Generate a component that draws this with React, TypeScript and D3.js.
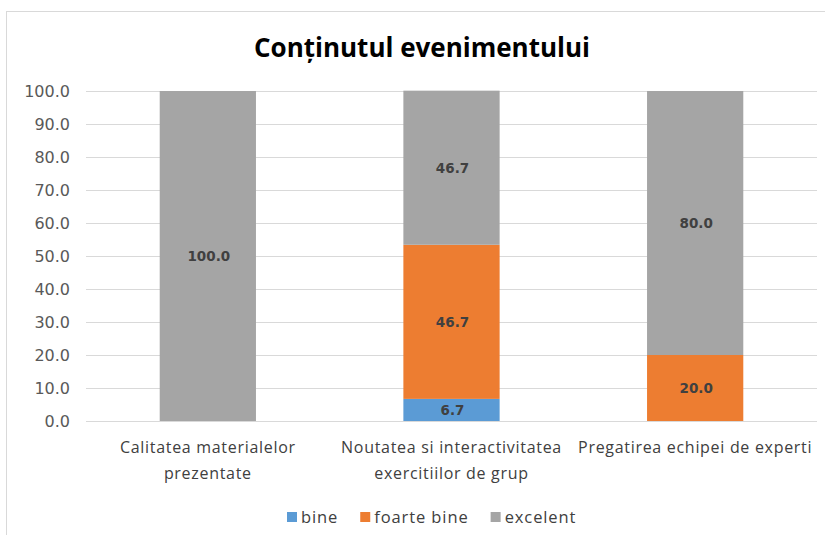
import React, { useEffect, useRef } from 'react';
import * as d3 from 'd3';

// chart data
const categories = [
  'Calitatea materialelor\nprezentate',
  'Noutatea si interactivitatea\nexercitiilor de grup',
  'Pregatirea echipei de experti',
];
const seriesNames = ['bine', 'foarte bine', 'excelent'];
const bine = [0, 6.7, 0];
const foarteBine = [0, 46.7, 20.0];
const excelent = [100.0, 46.7, 80.0];
const yTicks = [0, 10, 20, 30, 40, 50, 60, 70, 80, 90, 100];
const colors = ['#5B9BD5', '#ED7D31', '#A5A5A5'];
const title = 'Conținutul evenimentului';

const App = () => {
  const ref = useRef<SVGSVGElement | null>(null);

  useEffect(() => {
    if (!ref.current) return;
    drawChart(ref.current);
  }, []);

  return (
    <svg
      ref={ref}
      width={825}
      height={535}
      style={{ position: 'absolute', left: 0, top: 0, background: '#fff' }}
    />
  );
};

function drawChart(el: SVGSVGElement) {
  const svg = d3.select(el);
  svg.selectAll('*').remove();

  const width = 825;
  const height = 535;
  const font = '"Open Sans", sans-serif';
  const numFont = '"DejaVu Sans", Verdana, sans-serif';
  const margin = { top: 91, right: 8, bottom: 114, left: 86 };

  // outer chart border (right/bottom run off the picture)
  svg.append('rect')
    .attr('x', 6.5)
    .attr('y', 11.5)
    .attr('width', width + 10)
    .attr('height', height + 10)
    .attr('fill', '#fff')
    .attr('stroke', '#D9D9D9');

  const x = d3.scaleBand<number>()
    .domain(d3.range(categories.length))
    .range([margin.left, width - margin.right]);

  const y = d3.scaleLinear()
    .domain([0, 100])
    .range([height - margin.bottom, margin.top]);

  // gridlines
  svg.append('g')
    .selectAll('line')
    .data(yTicks)
    .enter()
    .append('line')
    .attr('x1', margin.left)
    .attr('x2', width - margin.right)
    .attr('y1', d => Math.round(y(d)) + 0.5)
    .attr('y2', d => Math.round(y(d)) + 0.5)
    .attr('stroke', '#D9D9D9')
    .attr('stroke-width', 1);

  // y tick labels
  svg.append('g')
    .selectAll('text')
    .data(yTicks)
    .enter()
    .append('text')
    .attr('x', 70)
    .attr('y', d => y(d))
    .attr('dy', '0.36em')
    .attr('text-anchor', 'end')
    .style('font-family', numFont)
    .style('font-size', '16px')
    .style('fill', '#595959')
    .text(d => d.toFixed(1));

  // stack
  const rows = categories.map((c, i) => ({
    i,
    bine: bine[i],
    'foarte bine': foarteBine[i],
    excelent: excelent[i],
  }));
  const stack = d3.stack<any>().keys(seriesNames);
  const layers = stack(rows);

  const barW = x.bandwidth() * 0.395;

  const groups = svg.append('g')
    .selectAll('g')
    .data(layers)
    .enter()
    .append('g')
    .attr('fill', (d, i) => colors[i]);

  groups.selectAll('rect')
    .data(d => d.filter(s => s[1] - s[0] > 0))
    .enter()
    .append('rect')
    .attr('x', d => x(d.data.i)! + x.bandwidth() / 2 - barW / 2)
    .attr('width', barW)
    .attr('y', d => y(d[1]))
    .attr('height', d => y(d[0]) - y(d[1]));

  // data labels
  groups.selectAll('text')
    .data(d => d.filter(s => s[1] - s[0] > 0))
    .enter()
    .append('text')
    .attr('x', d => x(d.data.i)! + x.bandwidth() / 2 + 1)
    .attr('y', d => y((d[0] + d[1]) / 2))
    .attr('dy', '0.36em')
    .attr('text-anchor', 'middle')
    .style('font-family', numFont)
    .style('font-size', '13.5px')
    .style('font-weight', 'bold')
    .style('fill', '#404040')
    .text(d => (d[1] - d[0]).toFixed(1));

  // category labels
  const catG = svg.append('g')
    .selectAll('text')
    .data(categories)
    .enter()
    .append('text')
    .attr('x', (d, i) => x(i)! + x.bandwidth() / 2)
    .attr('y', 453)
    .attr('text-anchor', 'middle')
    .style('font-family', font)
    .style('font-size', '16px')
    .style('letter-spacing', '0.7px')
    .style('fill', '#404040');

  catG.each(function (d) {
    const t = d3.select(this);
    d.split('\n').forEach((line, k) => {
      t.append('tspan')
        .attr('x', t.attr('x'))
        .attr('dy', k === 0 ? 0 : 25.5)
        .text(line);
    });
  });

  // title
  svg.append('text')
    .attr('x', 422)
    .attr('y', 57)
    .attr('text-anchor', 'middle')
    .style('font-family', font)
    .style('font-size', '26px')
    .style('font-weight', 'bold')
    .style('fill', '#000')
    .text(title);

  // legend
  const legend = svg.append('g').attr('transform', 'translate(287, 517)');
  let lx = 0;
  seriesNames.forEach((name, i) => {
    const g = legend.append('g').attr('transform', `translate(${lx},0)`);
    g.append('rect')
      .attr('x', 0)
      .attr('y', -5)
      .attr('width', 10)
      .attr('height', 10)
      .attr('fill', colors[i]);
    const t = g.append('text')
      .attr('x', 14)
      .attr('y', 0)
      .attr('dy', '0.36em')
      .style('font-family', font)
      .style('font-size', '16.5px')
      .style('letter-spacing', '0.9px')
      .style('fill', '#404040')
      .text(name);
    const tw = (t.node() as SVGTextElement).getComputedTextLength();
    lx += 14 + tw + 22;
  });
}

export default App;
